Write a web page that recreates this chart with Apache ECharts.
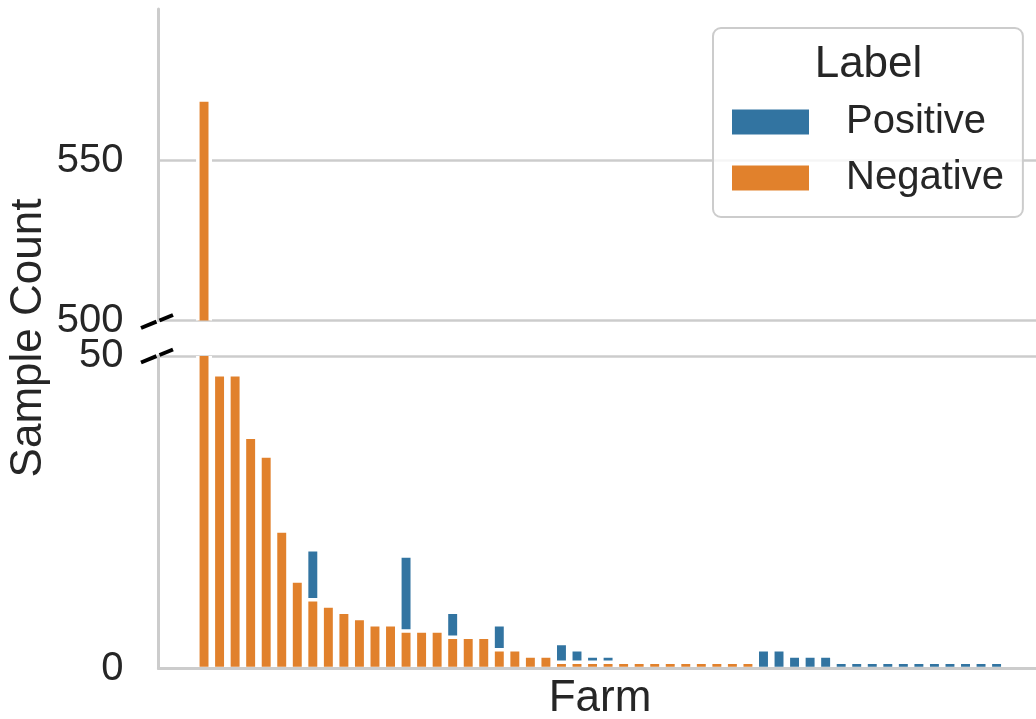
<!DOCTYPE html>
<html>
<head>
<meta charset="utf-8">
<script src="https://cdn.jsdelivr.net/npm/echarts@6/dist/echarts.min.js"></script>
<style>
  html, body { margin: 0; padding: 0; background: #ffffff; }
  #chart { width: 1036px; height: 719px; }
</style>
</head>
<body>
<div id="chart"></div>
<script>
// Sample counts per farm, farms sorted by total count (one entry per farm)
const negative = [569, 47, 47, 37, 34, 22, 14, 11, 10, 9,
                  8, 7, 7, 6, 6, 6, 5, 5, 5, 3,
                  3, 2, 2, 1, 1, 1, 1, 1, 1, 1,
                  1, 1, 1, 1, 1, 1,
                  null, null, null, null, null, null, null, null,
                  null, null, null, null, null, null, null, null];
const positive = [null, null, null, null, null, null, null, 19, null, null,
                  null, null, null, 18, null, null, 9, null, null, 7,
                  null, null, null, 4, 3, 2, 2, null, null, null,
                  null, null, null, null, null, null,
                  3, 3, 2, 2, 2, 1, 1, 1,
                  1, 1, 1, 1, 1, 1, 1, 1];
const seriesNames = ['Positive', 'Negative'];
const legendTitle = 'Label';
const xTitle = 'Farm';
const yTitle = 'Sample Count';

// broken value axis: lower panel 0..50, upper panel 500..max*1.05
const lowerMax = 50;
const upperMin = 500;
const tickStep = 50;
const upperMax = Math.max(...negative.filter(v => v != null)) * 1.05;

const BLUE = '#3274a1';
const ORANGE = '#e1812c';
const GRID = '#cccccc';
const TEXT = '#262626';
const FONT = '"Liberation Sans", Arial, sans-serif';

const toPairs = arr => arr.map((v, i) => [i, v == null ? '-' : v]);

const left = 158.5, plotWidth = 883;
const xMin = -2.93, xMax = 53.89;
const BAR_FRACTION = 0.8;   // bar width as a fraction of one category step
const EDGE = 3.5;           // white bar outline, centred on the bar edge

// bar drawn from 0 to its value, outline straddling the edge
function barRenderer(color) {
  return function (params, api) {
    const v = api.value(1);
    if (v == null || isNaN(v)) return;
    const i = api.value(0);
    const base = api.coord([i, 0]);
    const top = api.coord([i, v]);
    const w = api.size([BAR_FRACTION, 0])[0];
    return {
      type: 'rect',
      shape: { x: base[0] - w / 2, y: top[1], width: w, height: base[1] - top[1] },
      style: { fill: color, stroke: '#ffffff', lineWidth: EDGE }
    };
  };
}

const chart = echarts.init(document.getElementById('chart'), null, { renderer: 'canvas' });

const yAxisCommon = {
  type: 'value',
  interval: tickStep,
  axisLine: { show: true, onZero: false, lineStyle: { color: GRID, width: 3 } },
  axisTick: { show: false },
  axisLabel: { color: TEXT, fontSize: 40, fontFamily: FONT, margin: 35 },
  splitLine: { show: true, lineStyle: { color: GRID, width: 2.5 } }
};

chart.setOption({
  animation: false,
  backgroundColor: '#ffffff',
  textStyle: { fontFamily: FONT, color: TEXT },
  grid: [
    { left: left, top: 9, width: plotWidth, height: 311.5, outerBoundsMode: 'none' },
    { left: left, top: 356, width: plotWidth, height: 312.5, outerBoundsMode: 'none' }
  ],
  xAxis: [
    { type: 'value', gridIndex: 0, min: xMin, max: xMax, show: false },
    {
      type: 'value', gridIndex: 1, min: xMin, max: xMax, z: 5,
      axisLine: { show: true, lineStyle: { color: GRID, width: 3 } },
      axisTick: { show: false },
      axisLabel: { show: false },
      splitLine: { show: false },
      name: xTitle,
      nameLocation: 'middle',
      nameGap: 8,
      nameTextStyle: { color: TEXT, fontSize: 44, fontFamily: FONT }
    }
  ],
  yAxis: [
    Object.assign({}, yAxisCommon, {
      gridIndex: 0, min: upperMin, max: upperMax,
      axisLabel: Object.assign({}, yAxisCommon.axisLabel, { showMaxLabel: false }),
      splitLine: Object.assign({}, yAxisCommon.splitLine, { showMaxLine: false })
    }),
    Object.assign({}, yAxisCommon, { gridIndex: 1, min: 0, max: lowerMax })
  ],
  legend: {
    orient: 'vertical',
    left: 713,
    top: 28,
    padding: [74, 19, 19, 19],
    itemGap: 16,
    itemWidth: 77,
    itemHeight: 25,
    icon: 'rect',
    itemStyle: { borderWidth: 0 },
    backgroundColor: 'rgba(255,255,255,0.8)',
    borderColor: GRID,
    borderWidth: 2,
    borderRadius: 8,
    data: seriesNames,
    textStyle: { color: TEXT, fontSize: 40, lineHeight: 40, fontFamily: FONT, padding: [0, 0, 0, 32] }
  },
  graphic: [
    {
      type: 'text', z: 100, x: 868.5, y: 65,
      style: { text: legendTitle, fontSize: 44, fontFamily: FONT, fill: TEXT, align: 'center', verticalAlign: 'middle' }
    },
    {
      type: 'text', z: 100, x: 29, y: 338, rotation: Math.PI / 2,
      style: { text: yTitle, fontSize: 44, fontFamily: FONT, fill: TEXT, align: 'center', verticalAlign: 'middle' }
    },
    // axis break marks on the left spine
    { type: 'line', z: 100, shape: { x1: 141, y1: 328, x2: 156.5, y2: 321.7 }, style: { stroke: '#000000', lineWidth: 4 } },
    { type: 'line', z: 100, shape: { x1: 159.5, y1: 320.5, x2: 173, y2: 315 }, style: { stroke: '#000000', lineWidth: 4 } },
    { type: 'line', z: 100, shape: { x1: 141, y1: 362.5, x2: 156.5, y2: 356.2 }, style: { stroke: '#000000', lineWidth: 4 } },
    { type: 'line', z: 100, shape: { x1: 159.5, y1: 355, x2: 173, y2: 349.5 }, style: { stroke: '#000000', lineWidth: 4 } }
  ],
  series: [
    {
      name: seriesNames[0], type: 'custom', xAxisIndex: 1, yAxisIndex: 1, clip: true,
      itemStyle: { color: BLUE },
      renderItem: barRenderer(BLUE),
      encode: { x: 0, y: 1 },
      data: toPairs(positive)
    },
    {
      name: seriesNames[1], type: 'custom', xAxisIndex: 1, yAxisIndex: 1, clip: true,
      itemStyle: { color: ORANGE },
      renderItem: barRenderer(ORANGE),
      encode: { x: 0, y: 1 },
      data: toPairs(negative)
    },
    {
      name: seriesNames[1], type: 'custom', xAxisIndex: 0, yAxisIndex: 0, clip: true,
      itemStyle: { color: ORANGE },
      renderItem: barRenderer(ORANGE),
      encode: { x: 0, y: 1 },
      data: toPairs(negative)
    }
  ]
});
</script>
</body>
</html>
